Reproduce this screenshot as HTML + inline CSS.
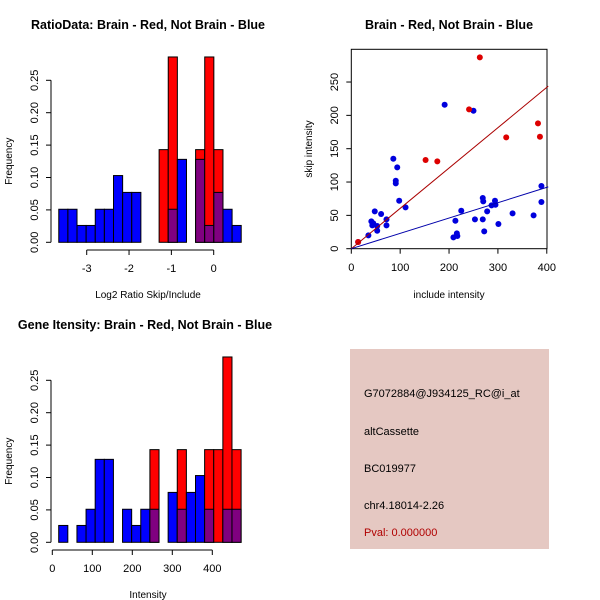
<!DOCTYPE html>
<html><head><meta charset="utf-8"><style>
body{margin:0;background:#fff}
svg{display:block;font-family:"Liberation Sans",sans-serif}
</style></head><body>
<svg id="c" width="600" height="600" viewBox="0 0 600 600" xmlns="http://www.w3.org/2000/svg">
<rect x="0" y="0" width="600" height="600" fill="#fff"/>
<text x="148" y="29" text-anchor="middle" font-size="12.5" font-weight="bold">RatioData: Brain - Red, Not Brain - Blue</text>
<text x="449" y="29" text-anchor="middle" font-size="12.5" font-weight="bold">Brain - Red, Not Brain - Blue</text>
<text x="145" y="329" text-anchor="middle" font-size="12.5" font-weight="bold">Gene Itensity: Brain - Red, Not Brain - Blue</text>
<g id="h1"></g>
<g id="h2"></g>
<g id="sc"></g>
<g>
<rect x="350" y="349" width="199" height="200" fill="#e5c8c2"/>
<text x="364" y="397" font-size="11">G7072884@J934125_RC@i_at</text>
<text x="364" y="435" font-size="11">altCassette</text>
<text x="364" y="472" font-size="11">BC019977</text>
<text x="364" y="509" font-size="11">chr4.18014-2.26</text>
<text x="364" y="536" font-size="11" fill="#b00000">Pval: 0.000000</text>
</g>
</svg>
<script>
// Ratio histogram data
const ratioStart = -3.66, ratioWidth = 0.2155;
const ratioBlue = [0.051,0.051,0.026,0.026,0.051,0.051,0.103,0.077,0.077,0,0,0,0.051,0.128,0,0.128,0.026,0.077,0.051,0.026];
const ratioRed  = [0,0,0,0,0,0,0,0,0,0,0,0.143,0.286,0,0,0.143,0.286,0.143,0,0];
const ratioXTicks = [-3,-2,-1,0];
// Intensity histogram data
const intStart = 16, intWidth = 22.8;
const intBlue = [0.026,0,0.026,0.051,0.128,0.128,0,0.051,0.026,0.051,0.051,0,0.077,0.051,0.077,0.103,0.051,0,0.051,0.051];
const intRed  = [0,0,0,0,0,0,0,0,0,0,0.143,0,0,0.143,0,0,0.143,0.143,0.286,0.143];
const intXTicks = [0,100,200,300,400];
const freqTicks = [0,0.05,0.10,0.15,0.20,0.25];
const freqTickLabels = ["0.00","0.05","0.10","0.15","0.20","0.25"];
// Scatter data
const redPts = [[263,287],[241,209],[152,133],[176,131],[317,167],[382,188],[386,168],[14,10]];
const bluePts = [[191,216],[250,207],[86,135],[94,122],[91,102],[91,98],[98,72],[111,62],[48,56],[61,52],[41,41],[45,38],[43,35],[53,34],[53,27],[72,44],[72,35],[35,20],[14,10],[225,57],[213,42],[216,23],[217,19],[209,17],[253,44],[269,44],[272,26],[269,76],[270,71],[278,56],[287,65],[294,72],[295,66],[301,37],[330,53],[373,50],[389,94],[389,70]];
const redSlope = 0.605, blueSlope = 0.23;
const scXTicks = [0,100,200,300,400];
const scYTicks = [0,50,100,150,200,250];

const NS="http://www.w3.org/2000/svg";
function mk(parent, tag, attrs){const e=document.createElementNS(NS,tag);for(const k in attrs)e.setAttribute(k,attrs[k]);parent.appendChild(e);return e;}

function hist(gid, start, width, blue, red, xticks, xs, x0, y0, xlabel, xAxisY){
  const g=document.getElementById(gid);
  const ys=v=>y0 - v*648;
  for(let i=0;i<blue.length;i++){
    const a=start+i*width, b=a+width;
    const xa=xs(a), xb=xs(b);
    const bv=blue[i], rv=red[i];
    const mx=Math.max(bv,rv), mn=Math.min(bv,rv);
    if(mx>0){
      const r=mk(g,'rect',{x:xa,y:ys(mx),width:xb-xa,height:y0-ys(mx),fill:rv>=bv?'#ff0000':'#0000ff',stroke:'#000','stroke-width':1});
      
      
    }
    if(mn>0){
      const p=mk(g,'rect',{x:xa,y:ys(mn),width:xb-xa,height:y0-ys(mn),fill:'#800080',stroke:'#000','stroke-width':1});
      
      
    }
  }
  const ya=mk(g,'line',{x1:51,x2:51,y1:ys(0),y2:ys(0.25),stroke:'#000'});
  
  
  freqTicks.forEach((t,i)=>{
    mk(g,'line',{x1:46,x2:51,y1:ys(t),y2:ys(t),stroke:'#000'});
    const tx=mk(g,'text',{x:0,y:0,transform:`translate(38,${ys(t)}) rotate(-90)`,'text-anchor':'middle','font-size':11});
    tx.textContent=freqTickLabels[i];
    
    
  });
  const xl=mk(g,'line',{x1:xs(xticks[0]),x2:xs(xticks[xticks.length-1]),y1:xAxisY,y2:xAxisY,stroke:'#000'});
  
  
  xticks.forEach(t=>{
    mk(g,'line',{x1:xs(t),x2:xs(t),y1:xAxisY,y2:xAxisY+5,stroke:'#000'});
    const tx=mk(g,'text',{x:xs(t),y:xAxisY+22,'text-anchor':'middle','font-size':11});
    tx.textContent=String(t);
    
    
  });
  const yt=mk(g,'text',{x:0,y:0,transform:`translate(12,${y0-81}) rotate(-90)`,'text-anchor':'middle','font-size':10});
  yt.textContent='Frequency';
  
  
  const xt=mk(g,'text',{x:148,y:xAxisY+48,'text-anchor':'middle','font-size':10});
  xt.textContent=xlabel;
  
  
}
hist('h1',ratioStart,ratioWidth,ratioBlue,ratioRed,ratioXTicks,v=>213.7+v*42.33,0,242.3,'Log2 Ratio Skip/Include',250);
hist('h2',intStart,intWidth,intBlue,intRed,intXTicks,v=>52.3+v*0.4,0,542.3,'Intensity',550);

(function(){
  const g=document.getElementById('sc');
  const xs=v=>351.3+v*0.4887, ys=v=>248.7-v*0.6667;
  const box=mk(g,'rect',{x:351.3,y:49.3,width:195.7,height:199.4,fill:'none',stroke:'#000'});
  
  
  scXTicks.forEach(t=>{
    mk(g,'line',{x1:xs(t),x2:xs(t),y1:248.7,y2:253.7,stroke:'#000'});
    const tx=mk(g,'text',{x:xs(t),y:271,'text-anchor':'middle','font-size':11});
    tx.textContent=String(t);
    
    
  });
  scYTicks.forEach(t=>{
    mk(g,'line',{x1:346.3,x2:351.3,y1:ys(t),y2:ys(t),stroke:'#000'});
    const tx=mk(g,'text',{x:0,y:0,transform:`translate(338,${ys(t)}) rotate(-90)`,'text-anchor':'middle','font-size':11});
    tx.textContent=String(t);
    
    
  });
  const xt=mk(g,'text',{x:449,y:298,'text-anchor':'middle','font-size':10});
  xt.textContent='include intensity';
  
  
  const yt=mk(g,'text',{x:0,y:0,transform:'translate(312,149) rotate(-90)','text-anchor':'middle','font-size':10});
  yt.textContent='skip intensity';
  
  
  bluePts.forEach(p=>{
    const c=mk(g,'circle',{cx:xs(p[0]),cy:ys(p[1]),r:3,fill:'#0000dd'});
    
    
  });
  redPts.forEach(p=>{
    const c=mk(g,'circle',{cx:xs(p[0]),cy:ys(p[1]),r:3,fill:'#dd0000'});
    
    
  });
  const rl=mk(g,'line',{x1:xs(0),y1:ys(0),x2:xs(403),y2:ys(403*redSlope),stroke:'#aa0000'});
  
  
  const bl=mk(g,'line',{x1:xs(0),y1:ys(0),x2:xs(403),y2:ys(403*blueSlope),stroke:'#0000aa'});
  
  
})();
</script>
</body></html>
